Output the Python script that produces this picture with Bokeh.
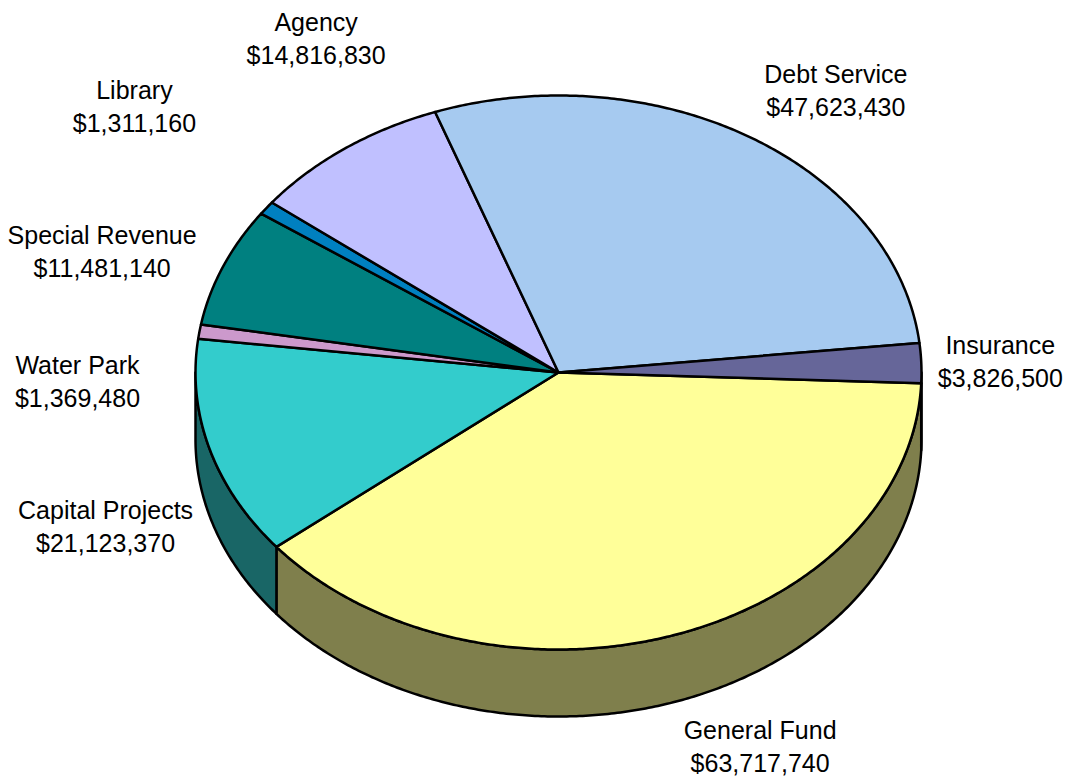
import numpy as np
from bokeh.plotting import figure
from bokeh.models import Range1d, ColumnDataSource
from bokeh.embed import file_html
from bokeh.resources import INLINE
from bokeh.core.properties import value

# ---- data (clockwise order starting at General Fund) ----
categories = ["General Fund", "Capital Projects", "Water Park", "Special Revenue",
              "Library", "Agency", "Debt Service", "Insurance"]
amounts = [63717740, 21123370, 1369480, 11481140, 1311160, 14816830, 47623430, 3826500]
top_colors = ["#FFFF99", "#33CCCC", "#CC99CC", "#008080",
              "#0080C0", "#C0C0FF", "#A6CAF0", "#666699"]

# ---- layout ----
W, H = 1073, 782
CX, CY, RX, RY, DEPTH = 558.0, 372.0, 363.0, 277.0, 67.0
START = 357.8  # degrees (ellipse parameter), slices run clockwise
# label offsets (pixels) from each slice's rim point at its mid angle
label_dx = [87, -104, -122, -121, -132, -29, 85, 79]
label_dy = [103, 69, 41, -24, -110, -118, -56, -10]
TEXT_SHIFT = -8
LINE_GAP = 33
FONT = "Liberation Sans"
FSIZE = "25px"


def darker(hexcol, f=0.5):
    h = hexcol.lstrip("#")
    r, g, b = (int(h[i:i + 2], 16) for i in (0, 2, 4))
    return "#%02x%02x%02x" % (int(r * f), int(g * f), int(b * f))


def rim(t_deg, dy=0.0):
    t = np.radians(t_deg)
    return CX + RX * np.cos(t), CY - RY * np.sin(t) + dy


total = float(sum(amounts))
spans = [a / total * 360.0 for a in amounts]
bounds = []
cur = START
for s in spans:
    bounds.append((cur - s, cur))  # (low, high)
    cur -= s

# ---- side walls (front half: 180..360) ----
side_xs, side_ys, side_cols = [], [], []
for (lo, hi), col in zip(bounds, top_colors):
    for shift in (-360.0, 0.0, 360.0):
        a, b = max(lo + shift, 180.0), min(hi + shift, 360.0)
        if b - a > 1e-6:
            ts = np.linspace(a, b, max(3, int((b - a) * 2)))
            tx, ty = rim(ts)
            bx, by = rim(ts[::-1], DEPTH)
            side_xs.append(list(np.concatenate([tx, bx])))
            side_ys.append(list(np.concatenate([ty, by])))
            side_cols.append(darker(col))

# ---- top faces ----
top_xs, top_ys = [], []
for lo, hi in bounds:
    ts = np.linspace(lo, hi, max(3, int((hi - lo) * 2)))
    tx, ty = rim(ts)
    top_xs.append([CX] + list(tx))
    top_ys.append([CY] + list(ty))

p = figure(width=W, height=H, x_range=Range1d(0, W), y_range=Range1d(H, 0),
           output_backend="svg", toolbar_location=None,
           x_axis_location=None, y_axis_location=None,
           min_border=0, min_border_left=0, min_border_right=0,
           min_border_top=0, min_border_bottom=0)
p.grid.visible = False
p.outline_line_color = None
p.background_fill_color = "white"
p.border_fill_color = "white"

p.patches(xs="xs", ys="ys", fill_color="c", line_color="black", line_width=2.5,
          line_join="round",
          source=ColumnDataSource(dict(xs=side_xs, ys=side_ys, c=side_cols)))
p.patches(xs="xs", ys="ys", fill_color="c", line_color="black", line_width=2.5,
          line_join="round",
          source=ColumnDataSource(dict(xs=top_xs, ys=top_ys, c=top_colors)))

# ---- labels ----
lx, ly1, ly2, t1, t2 = [], [], [], [], []
for (lo, hi), name, amt, dx, dy in zip(bounds, categories, amounts, label_dx, label_dy):
    mx, my = rim((lo + hi) / 2.0)
    lx.append(mx + dx)
    ly1.append(my + dy + TEXT_SHIFT)
    ly2.append(my + dy + TEXT_SHIFT + LINE_GAP)
    t1.append(name)
    t2.append("${:,}".format(amt))

src = ColumnDataSource(dict(x=lx, y1=ly1, y2=ly2, t1=t1, t2=t2))
for yk, tk in (("y1", "t1"), ("y2", "t2")):
    p.text(x="x", y=yk, text=tk, source=src, text_align="center",
           text_baseline="alphabetic", text_font=value(FONT),
           text_font_size=FSIZE, text_color="black")

open("out.html", "w").write(file_html(p, INLINE))
